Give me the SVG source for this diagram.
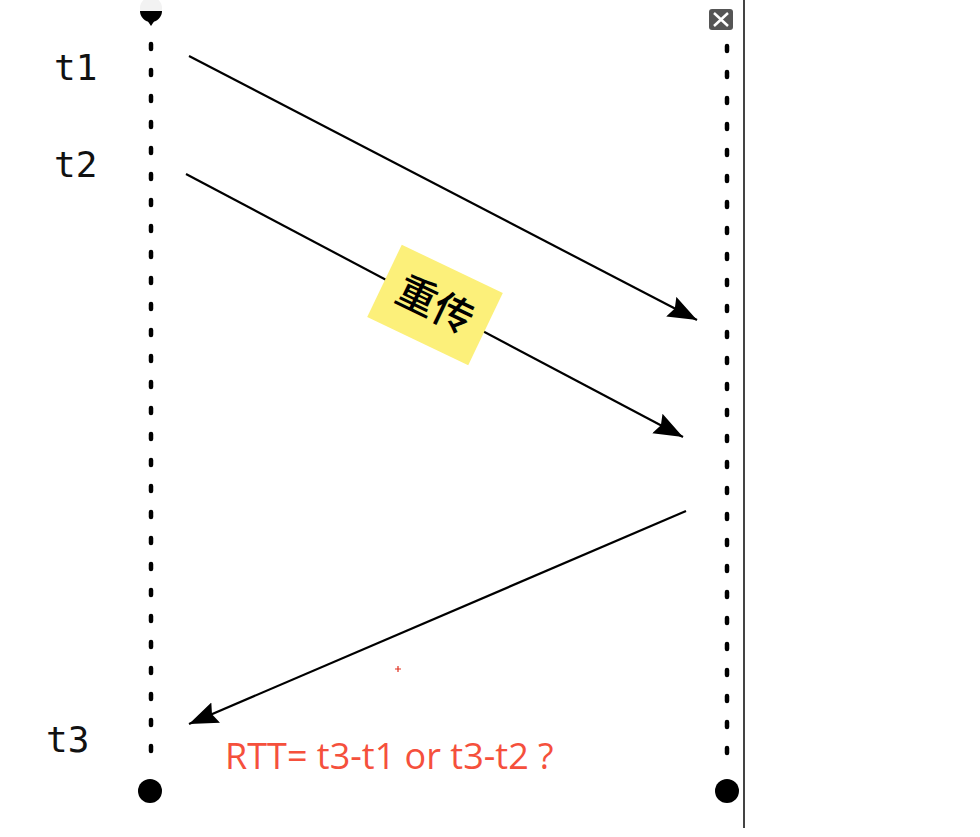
<svg xmlns="http://www.w3.org/2000/svg" width="980" height="837" viewBox="0 0 980 837">
<defs>
<marker id="ah" markerUnits="userSpaceOnUse" markerWidth="32" markerHeight="24" refX="29" refY="11" orient="auto">
<path d="M0,0 L29,11 L0,22 L4,11 Z" fill="#000"/>
</marker>
<style>
.life{stroke:#000;stroke-width:4.5;stroke-dasharray:5 21;stroke-linecap:round;fill:none}
.msg{stroke:#000;stroke-width:2.2;fill:none;marker-end:url(#ah)}
.tl{font-family:"DejaVu Sans Mono",monospace;font-size:36px;fill:#111}
</style>
</defs>
<rect width="980" height="837" fill="#fff"/>
<g id="lifeline-left">
<circle cx="151" cy="8" r="11" fill="#f2f2f2"/>
<path d="M140,11 A11,11 0 0 0 162,11 Z" fill="#000"/>
<path d="M147,20 L155,20 L151,26 Z" fill="#000"/>
<line class="life" x1="151" y1="44" x2="151" y2="765"/>
<circle cx="150" cy="791" r="12" fill="#000"/>
</g>
<g id="lifeline-right">
<line x1="744" y1="0" x2="744" y2="828" stroke="#444" stroke-width="2"/>
<rect x="709" y="9" width="24" height="21" rx="3" fill="#555"/>
<path d="M714,13 L728,26 M728,13 L714,26" stroke="#fff" stroke-width="2.5"/>
<line class="life" x1="727" y1="46" x2="727" y2="767"/>
<circle cx="727" cy="791" r="12" fill="#000"/>
</g>
<g id="connectors">
<line class="msg" x1="189" y1="56" x2="697" y2="320"/>
<line class="msg" x1="186" y1="174" x2="683" y2="437"/>
<line class="msg" x1="686" y1="511" x2="189" y2="724"/>
</g>
<g id="label-t1"><text class="tl" x="54" y="80">t1</text></g>
<g id="label-t2"><text class="tl" x="54" y="177">t2</text></g>
<g id="label-t3"><text class="tl" x="46" y="752">t3</text></g>
<g id="note-retransmit" transform="translate(435,305) rotate(25.6)">
<rect x="-56" y="-40" width="112" height="80" fill="#fcf07a"/>
<text x="0" y="14" text-anchor="middle" font-family="'Noto Sans CJK SC',sans-serif" font-size="40" font-weight="500" fill="#000">重传</text>
</g>
<g id="rtt-label">
<text x="225" y="769" font-family="'Open Sans',sans-serif" font-size="36" fill="#f5503c">RTT= t3-t1 or t3-t2 ?</text>
</g>
<path d="M395,669 L401,669 M398,666 L398,672" stroke="#e03020" stroke-width="1.2"/>
</svg>
